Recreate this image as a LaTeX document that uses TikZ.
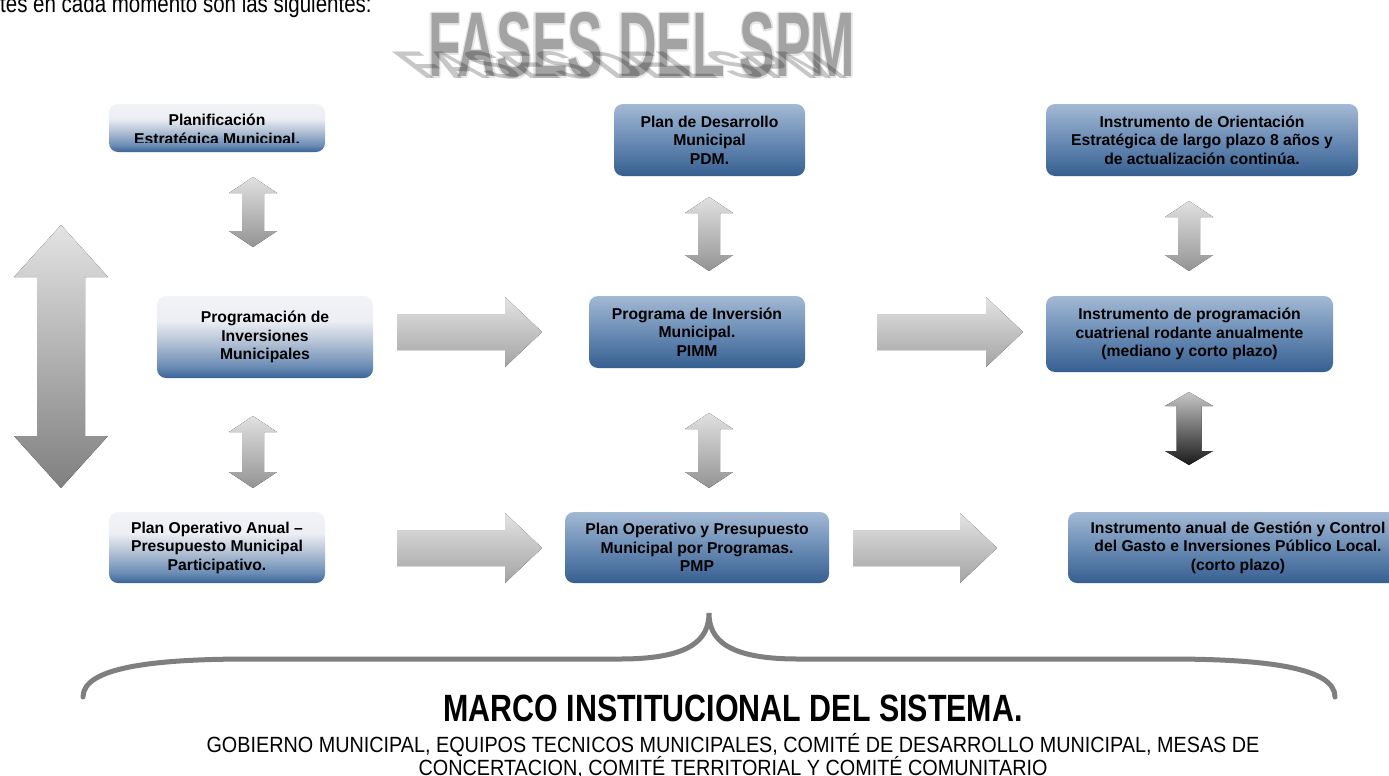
\documentclass[tikz,border=0pt]{standalone}
\usepackage{fontspec}
\setmainfont{Liberation Sans}
\newfontfamily\narrowfont[FakeStretch=0.82]{Liberation Sans}
\newfontfamily\gobfont[FakeStretch=0.9]{Liberation Sans}
\newfontfamily\narrowbold[FakeStretch=0.8]{Liberation Sans Bold}
\newfontfamily\titlefont[FakeStretch=0.6]{Liberation Sans Bold}
\definecolor{bdark}{HTML}{365F90}
\definecolor{bmid}{HTML}{6A8CB5}
\definecolor{btop}{HTML}{A3B9D4}
\definecolor{lbottom}{HTML}{3A6395}
\definecolor{lmid}{HTML}{B9C6D8}
\definecolor{ltop}{HTML}{F2F3F7}
\definecolor{bracegray}{HTML}{7F7F7F}
\definecolor{titlegray}{HTML}{A3A3A3}
\definecolor{titleedge}{HTML}{E6E6E6}
\pgfdeclareverticalshading{bluebox}{100bp}{color(0bp)=(bdark); color(25bp)=(bdark); color(50bp)=(bmid); color(75bp)=(btop); color(100bp)=(btop)}
\pgfdeclareverticalshading{lightbox}{100bp}{color(0bp)=(lbottom); color(25bp)=(lbottom); color(32bp)=(bmid); color(48bp)=(lmid); color(60bp)=(ltop!90!lmid); color(75bp)=(ltop); color(100bp)=(ltop)}
\newcommand\vdarr[7]{%
  \fill[#7] (#1,#2) -- (#1+#4,#2+#6) -- (#1+#5,#2+#6) -- (#1+#5,#3-#6) -- (#1+#4,#3-#6) -- (#1,#3)
    -- (#1-#4,#3-#6) -- (#1-#5,#3-#6) -- (#1-#5,#2+#6) -- (#1-#4,#2+#6) -- cycle;}
\newcommand\rarr[7]{%
  \fill[#7] (#1,#3-#5) -- (#2-#6,#3-#5) -- (#2-#6,#3-#4) -- (#2,#3) -- (#2-#6,#3+#4) -- (#2-#6,#3+#5) -- (#1,#3+#5) -- cycle;}
\newcommand\titletext{\resizebox{427pt}{64pt}{\titlefont FASES DEL SPM}}
\begin{document}
\begin{tikzpicture}[x=1pt,y=-1pt,
  box/.style={rectangle, rounded corners=9pt, inner sep=0pt, align=center,
    font=\bfseries\fontsize{15.7}{18.5}\selectfont, text=black},
  bluestyle/.style={box, shading=bluebox},
  lightstyle/.style={box, shading=lightbox},
  garrow/.style={top color=black!12, bottom color=black!42},
  bigarrow/.style={top color=black!11, bottom color=black!50},
  harrow/.style={top color=black!11, bottom color=black!36},
  darkarrow/.style={top color=black!22, bottom color=black!90},
  boxtext/.style={inner sep=0pt, align=center, font=\bfseries\fontsize{15.7}{18.5}\selectfont, text=black}]
\useasboundingbox (0,0) rectangle (1389,776);
\fill[white] (0,0) rectangle (1389,776);

% intro text
\node[anchor=base west, inner sep=0pt, font=\narrowfont\fontsize{25}{28}\selectfont] (intro) at (0,13) {tes en cada momento son las siguientes:};

% title with shadow
\foreach \dx/\dy in {-1.5/0,1.5/0,0/-1.5,0/1.5,-1.1/-1.1,1.1/1.1,-1.1/1.1,1.1/-1.1}
  \node[anchor=south west, inner sep=0pt, text=titleedge] at (428+\dx,78+\dy) {\titletext};
\node[anchor=south west, inner sep=0pt, text=titlegray] (title) at (428,78) {\titletext};
\begin{scope}[blend mode=multiply]
\node[anchor=south west, inner sep=0pt, text=black!22, yscale=0.42, xslant=-0.55] (titleshadow) at (424,79) {\titletext};
\end{scope}

% boxes
\node[lightstyle, minimum width=216pt, minimum height=48pt] (plan) at (217,128) {};
\begin{scope}
  \clip (105,100) rectangle (330,142.5);
  \node[boxtext] (plantext) at (217,131) {Planificación\\Estratégica Municipal.};
\end{scope}
\node[lightstyle, minimum width=216pt, minimum height=82pt] (prog) at (265,337) {Programación de\\Inversiones\\Municipales};
\node[lightstyle, minimum width=216pt, minimum height=71pt] (poa) at (217,547.5) {Plan Operativo Anual --\\Presupuesto Municipal\\Participativo.};
\node[bluestyle, minimum width=191pt, minimum height=72pt] (pdm) at (709.5,140) {Plan de Desarrollo\\Municipal\\PDM.};
\node[bluestyle, minimum width=216pt, minimum height=72pt] (pimm) at (697,332) {Programa de Inversión\\Municipal.\\PIMM};
\node[bluestyle, minimum width=264pt, minimum height=71pt] (pmp) at (697,547.5) {Plan Operativo y Presupuesto\\Municipal por Programas.\\PMP};
\node[bluestyle, minimum width=312pt, minimum height=72pt] (ioe) at (1202,140) {Instrumento de Orientación\\Estratégica de largo plazo 8 años y\\de actualización continúa.};
\node[bluestyle, minimum width=287pt, minimum height=76pt] (ipc) at (1189.5,334) {Instrumento de programación\\cuatrienal rodante anualmente\\(mediano y corto plazo)};
\node[bluestyle, minimum width=340pt, minimum height=71pt] (iag) at (1238,547.5) {Instrumento anual de Gestión y Control\\del Gasto e Inversiones Público Local.\\(corto plazo)};

% vertical double arrows
\vdarr{61}{225}{488}{47}{24}{52}{bigarrow}
\vdarr{253}{177}{247}{24}{11}{16}{garrow}
\vdarr{253}{416}{488}{24}{11}{16}{garrow}
\vdarr{709}{197}{271}{24}{11}{16}{garrow}
\vdarr{709}{413}{488}{24}{11}{16}{garrow}
\vdarr{1189}{201}{271}{24}{11}{16}{garrow}
\vdarr{1189}{392}{465}{24}{12.5}{14}{darkarrow}

% horizontal arrows
\rarr{397}{542}{332}{35}{18}{37}{harrow}
\rarr{877}{1023}{332}{35}{18}{37}{harrow}
\rarr{397}{542}{548}{35}{18}{37}{harrow}
\rarr{853}{997}{548}{35}{18}{37}{harrow}

% brace
\coordinate (bl) at (83,697);
\coordinate (bp) at (709,613);
\coordinate (br) at (1335,697);
\draw[bracegray, line width=5pt, line cap=round] (bl) .. controls (83,668) and (150,659) .. (250,659) -- (620,659)
  .. controls (690,659) and (709,640) .. (bp) .. controls (709,640) and (728,659) .. (798,659) -- (1168,659)
  .. controls (1268,659) and (1335,668) .. (br);

% bottom texts
\node[anchor=center, inner sep=0pt, font=\narrowbold\fontsize{38}{40}\selectfont] (marco) at (733,708) {MARCO INSTITUCIONAL DEL SISTEMA.};
\node[anchor=base, inner sep=0pt, font=\gobfont\fontsize{22}{24}\selectfont] (gob1) at (733,752) {GOBIERNO MUNICIPAL, EQUIPOS TECNICOS MUNICIPALES, COMITÉ DE DESARROLLO MUNICIPAL, MESAS DE};
\node[anchor=base, inner sep=0pt, font=\gobfont\fontsize{22}{24}\selectfont] (gob2) at (733,775) {CONCERTACION, COMITÉ TERRITORIAL Y COMITÉ COMUNITARIO};
\end{tikzpicture}
\end{document}
